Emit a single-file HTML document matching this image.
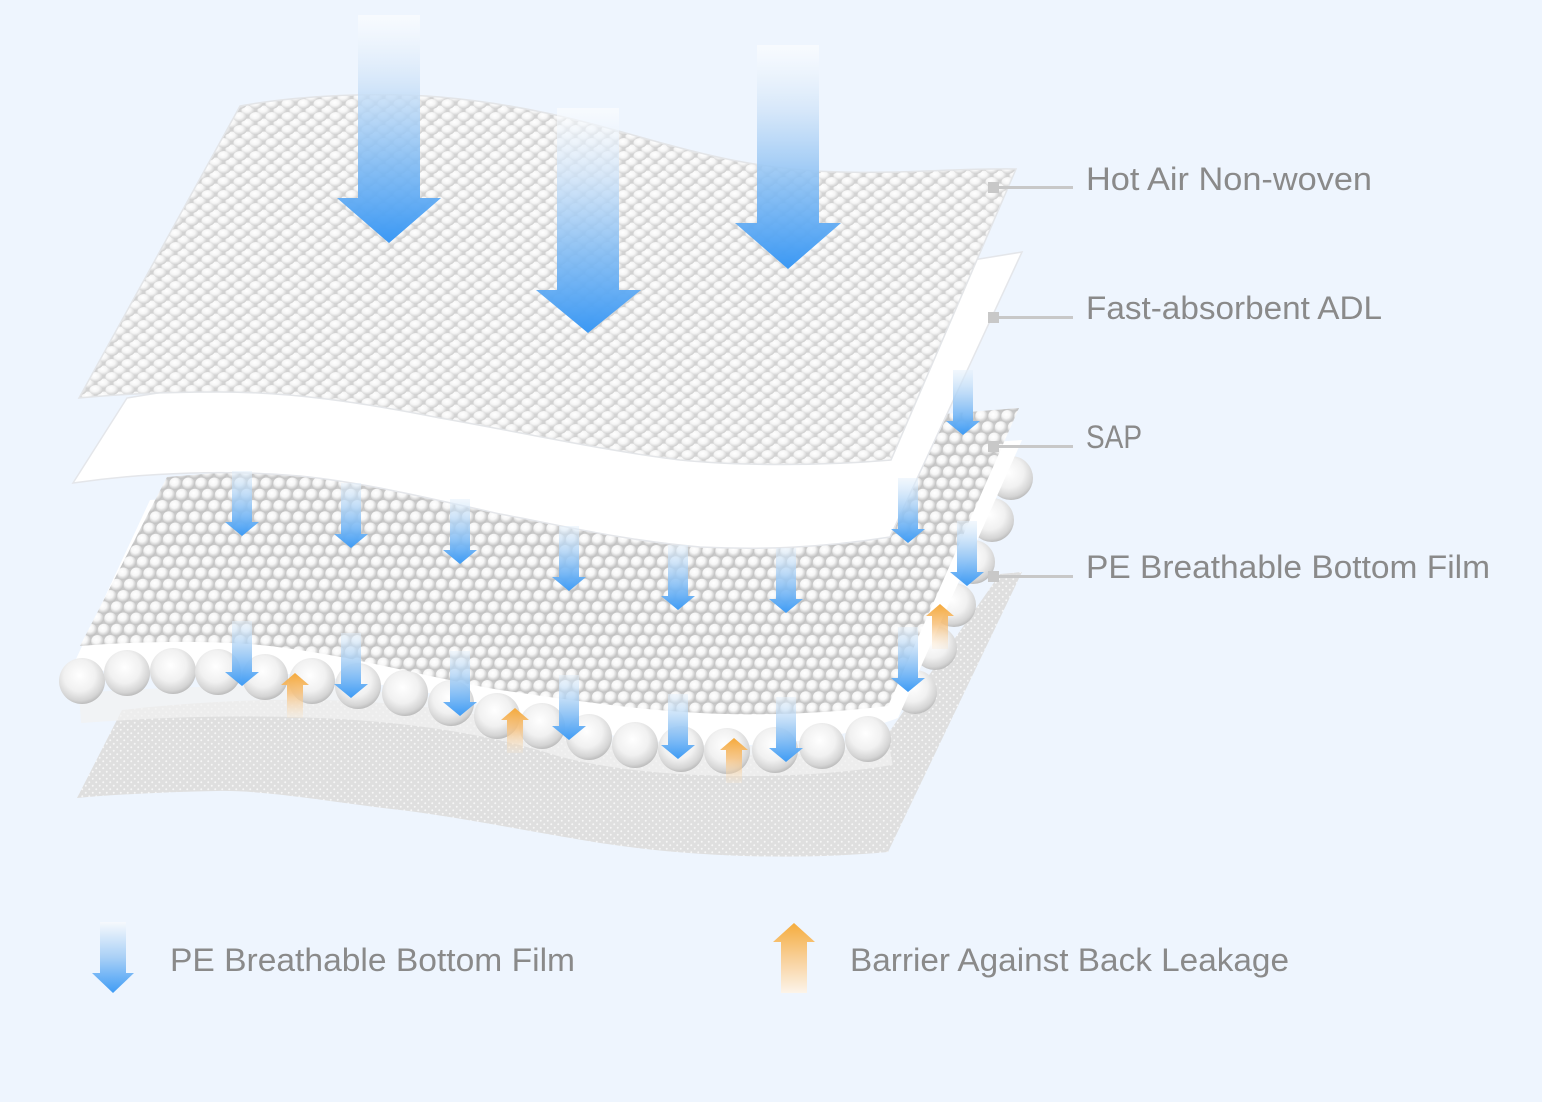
<!DOCTYPE html>
<html>
<head>
<meta charset="utf-8">
<style>
  html,body{margin:0;padding:0;background:#eef5fe;}
  svg{display:block;}
  .lbl{font-family:"Liberation Sans",Arial,sans-serif;fill:#8a8a8a;font-size:32px;}
</style>
</head>
<body>
<svg width="1542" height="1102" viewBox="0 0 1542 1102" xmlns="http://www.w3.org/2000/svg">
  <defs>
    <radialGradient id="bump" cx="0.4" cy="0.35" r="0.65">
      <stop offset="0" stop-color="#ffffff"/>
      <stop offset="0.5" stop-color="#f5f5f5"/>
      <stop offset="1" stop-color="#cecece"/>
    </radialGradient>
    <radialGradient id="sph" cx="0.4" cy="0.35" r="0.62">
      <stop offset="0" stop-color="#ffffff"/>
      <stop offset="0.5" stop-color="#f6f6f6"/>
      <stop offset="1" stop-color="#c2c2c2"/>
    </radialGradient>
    <radialGradient id="ball" cx="0.45" cy="0.38" r="0.62">
      <stop offset="0" stop-color="#ffffff"/>
      <stop offset="0.55" stop-color="#f1f1f1"/>
      <stop offset="0.88" stop-color="#d4d4d4"/>
      <stop offset="1" stop-color="#bdbdbd"/>
    </radialGradient>
    <pattern id="weave" width="16" height="13" patternUnits="userSpaceOnUse">
      <rect width="16" height="13" fill="#d2d2d2"/>
      <ellipse cx="8" cy="6.5" rx="6.6" ry="5" fill="url(#bump)"/>
      <ellipse cx="0" cy="0" rx="6.6" ry="5" fill="url(#bump)"/>
      <ellipse cx="16" cy="0" rx="6.6" ry="5" fill="url(#bump)"/>
      <ellipse cx="0" cy="13" rx="6.6" ry="5" fill="url(#bump)"/>
      <ellipse cx="16" cy="13" rx="6.6" ry="5" fill="url(#bump)"/>
    </pattern>
    <pattern id="sap" width="13" height="22.5" patternUnits="userSpaceOnUse">
      <rect width="13" height="22.5" fill="#c8c8c8"/>
      <circle cx="0" cy="0" r="6.3" fill="url(#sph)"/>
      <circle cx="13" cy="0" r="6.3" fill="url(#sph)"/>
      <circle cx="6.5" cy="11.25" r="6.3" fill="url(#sph)"/>
      <circle cx="0" cy="22.5" r="6.3" fill="url(#sph)"/>
      <circle cx="13" cy="22.5" r="6.3" fill="url(#sph)"/>
    </pattern>
    <pattern id="dots" width="7" height="7" patternUnits="userSpaceOnUse">
      <rect width="7" height="7" fill="#dfdfdf"/>
      <circle cx="1.75" cy="1.75" r="1" fill="#f6f6f6"/>
      <circle cx="5.25" cy="5.25" r="1" fill="#f6f6f6"/>
    </pattern>

    <linearGradient id="gBig" x1="0" y1="0" x2="0" y2="1">
      <stop offset="0" stop-color="#ffffff" stop-opacity="0.55"/>
      <stop offset="0.3" stop-color="#cfe3f8" stop-opacity="0.8"/>
      <stop offset="0.65" stop-color="#7fbaf3" stop-opacity="0.9"/>
      <stop offset="1" stop-color="#3a98f4"/>
    </linearGradient>
    <linearGradient id="gSmall" x1="0" y1="0" x2="0" y2="1">
      <stop offset="0" stop-color="#e4f0fb" stop-opacity="0.5"/>
      <stop offset="0.45" stop-color="#a3cdf5" stop-opacity="0.85"/>
      <stop offset="1" stop-color="#3d9bf5"/>
    </linearGradient>
    <linearGradient id="gOrange" x1="0" y1="0" x2="0" y2="1">
      <stop offset="0" stop-color="#f5a93a"/>
      <stop offset="0.45" stop-color="#f7c07a" stop-opacity="0.85"/>
      <stop offset="1" stop-color="#fbe3c4" stop-opacity="0.2"/>
    </linearGradient>
    <linearGradient id="gLegBlue" x1="0" y1="0" x2="0" y2="1">
      <stop offset="0" stop-color="#f6f9fd"/>
      <stop offset="0.5" stop-color="#a9d0f6"/>
      <stop offset="1" stop-color="#3f9cf5"/>
    </linearGradient>
    <linearGradient id="gLegOr" x1="0" y1="0" x2="0" y2="1">
      <stop offset="0" stop-color="#f5ac3e"/>
      <stop offset="0.5" stop-color="#f8cf98"/>
      <stop offset="1" stop-color="#fcf4ea"/>
    </linearGradient>

    <path id="sa" d="M-10,-65 L10,-65 L10,-14 L17,-14 L0,0 L-17,-14 L-10,-14 Z" fill="url(#gSmall)"/>
    <path id="oa" d="M0,0 L14,12 L8,12 L8,45 L-8,45 L-8,12 L-14,12 Z" fill="url(#gOrange)"/>
  </defs>

  <rect width="1542" height="1102" fill="#eef5fe"/>

  <!-- Bottom PE film -->
  <path d="M122,710 C300,690 450,700 560,735 C650,760 800,760 880,745 L1000,574 L1022,572 L888,852 C800,860 700,858 600,843 C520,830 450,815 383,808 C320,800 260,790 217,791 C170,792 120,794 77,798 Z" fill="url(#dots)"/>
  <path d="M80,708 C300,692 450,706 560,741 C650,766 800,766 890,750" fill="none" stroke="#f1f1f1" stroke-opacity="0.75" stroke-width="30"/>

  <!-- Right side balls (partly hidden behind sheet) -->
  <g fill="url(#ball)">
    <circle cx="1011" cy="478" r="22"/>
    <circle cx="992" cy="520" r="22"/>
    <circle cx="973" cy="562" r="22"/>
    <circle cx="954" cy="605" r="22"/>
    <circle cx="935" cy="648" r="22"/>
    <circle cx="915" cy="692" r="22"/>
  </g>

  <!-- White sheet under SAP -->
  <path d="M150,500 L1022,440 L898,718 C840,740 760,748 700,745 C620,740 570,728 520,714 C460,698 400,686 330,678 C250,669 160,668 70,672 Z" fill="#ffffff"/>

  <!-- Front ball row -->
  <g fill="url(#ball)">
    <circle cx="82" cy="681" r="23"/>
    <circle cx="127" cy="673" r="23"/>
    <circle cx="173" cy="671" r="23"/>
    <circle cx="218" cy="672" r="23"/>
    <circle cx="265" cy="677" r="23"/>
    <circle cx="312" cy="681" r="23"/>
    <circle cx="358" cy="686" r="23"/>
    <circle cx="405" cy="693" r="23"/>
    <circle cx="451" cy="703" r="23"/>
    <circle cx="497" cy="716" r="23"/>
    <circle cx="542" cy="726" r="23"/>
    <circle cx="589" cy="737" r="23"/>
    <circle cx="635" cy="745" r="23"/>
    <circle cx="681" cy="749" r="23"/>
    <circle cx="727" cy="751" r="23"/>
    <circle cx="775" cy="750" r="23"/>
    <circle cx="822" cy="746" r="23"/>
    <circle cx="868" cy="739" r="23"/>
  </g>

  <!-- SAP layer -->
  <path d="M167,477 L1019,408 L888,706 C820,714 760,716 700,713 C630,709 570,700 500,690 C420,676 340,652 250,644 C190,640 130,642 80,646 Z" fill="url(#sap)"/>

  <!-- ADL (white) -->
  <path d="M127,398 L1022,252 L890,537 C820,548 760,550 700,547 C620,540 560,525 500,514 C420,496 360,482 300,476 C230,470 150,472 73,483 Z" fill="#ffffff" stroke="#e4e6ea" stroke-width="1.5"/>

  <!-- Top layer: Hot Air Non-woven -->
  <path d="M240,106 C300,95 380,92 440,97 C520,104 580,120 640,137 C700,154 760,170 840,172 C900,174 960,168 1016,169 L891,460 C820,466 740,466 680,460 C600,450 520,432 440,418 C360,402 290,392 220,392 C170,392 120,394 79,398 Z" fill="url(#weave)" stroke="#e3e5e8" stroke-width="1.5"/>

  <!-- Big arrows -->
  <path d="M358,15 L420,15 L420,198 L441,198 L389,243 L337,198 L358,198 Z" fill="url(#gBig)"/>
  <path d="M557,108 L619,108 L619,290 L641,290 L588,333 L536,290 L557,290 Z" fill="url(#gBig)"/>
  <path d="M757,45 L819,45 L819,223 L841,223 L788,269 L735,223 L757,223 Z" fill="url(#gBig)"/>

  <!-- Small blue arrows (upper) -->
  <use href="#sa" x="242" y="536"/>
  <use href="#sa" x="351" y="548"/>
  <use href="#sa" x="460" y="564"/>
  <use href="#sa" x="569" y="591"/>
  <use href="#sa" x="678" y="610"/>
  <use href="#sa" x="786" y="613"/>
  <use href="#sa" x="908" y="543"/>
  <use href="#sa" x="963" y="435"/>
  <use href="#sa" x="967" y="586"/>
  <!-- Small blue arrows (lower) -->
  <use href="#sa" x="242" y="686"/>
  <use href="#sa" x="351" y="698"/>
  <use href="#sa" x="460" y="716"/>
  <use href="#sa" x="569" y="740"/>
  <use href="#sa" x="678" y="759"/>
  <use href="#sa" x="786" y="762"/>
  <use href="#sa" x="908" y="692"/>

  <!-- Orange arrows -->
  <use href="#oa" x="295" y="673"/>
  <use href="#oa" x="515" y="708"/>
  <use href="#oa" x="734" y="738"/>
  <use href="#oa" x="940" y="604"/>

  <!-- Leader lines -->
  <g fill="#c8c8c8">
    <rect x="988" y="186" width="85" height="3"/>
    <rect x="988" y="182" width="11" height="11"/>
    <rect x="988" y="316" width="85" height="3"/>
    <rect x="988" y="312" width="11" height="11"/>
    <rect x="988" y="445" width="85" height="3"/>
    <rect x="988" y="441" width="11" height="11"/>
    <rect x="988" y="575" width="85" height="3"/>
    <rect x="988" y="571" width="11" height="11"/>
  </g>

  <!-- Labels -->
  <text class="lbl" x="1086" y="190" textLength="286" lengthAdjust="spacingAndGlyphs">Hot Air Non-woven</text>
  <text class="lbl" x="1086" y="319" textLength="296" lengthAdjust="spacingAndGlyphs">Fast-absorbent ADL</text>
  <text class="lbl" x="1086" y="448" textLength="56" lengthAdjust="spacingAndGlyphs">SAP</text>
  <text class="lbl" x="1086" y="578" textLength="404" lengthAdjust="spacingAndGlyphs">PE Breathable Bottom Film</text>

  <!-- Legend -->
  <path d="M100,922 L126,922 L126,973 L134,973 L113,993 L92,973 L100,973 Z" fill="url(#gLegBlue)"/>
  <text class="lbl" x="170" y="971" textLength="405" lengthAdjust="spacingAndGlyphs">PE Breathable Bottom Film</text>
  <path d="M794,923 L815,942 L807,942 L807,993 L781,993 L781,942 L773,942 Z" fill="url(#gLegOr)"/>
  <text class="lbl" x="850" y="971" textLength="439" lengthAdjust="spacingAndGlyphs">Barrier Against Back Leakage</text>
</svg>
</body>
</html>
